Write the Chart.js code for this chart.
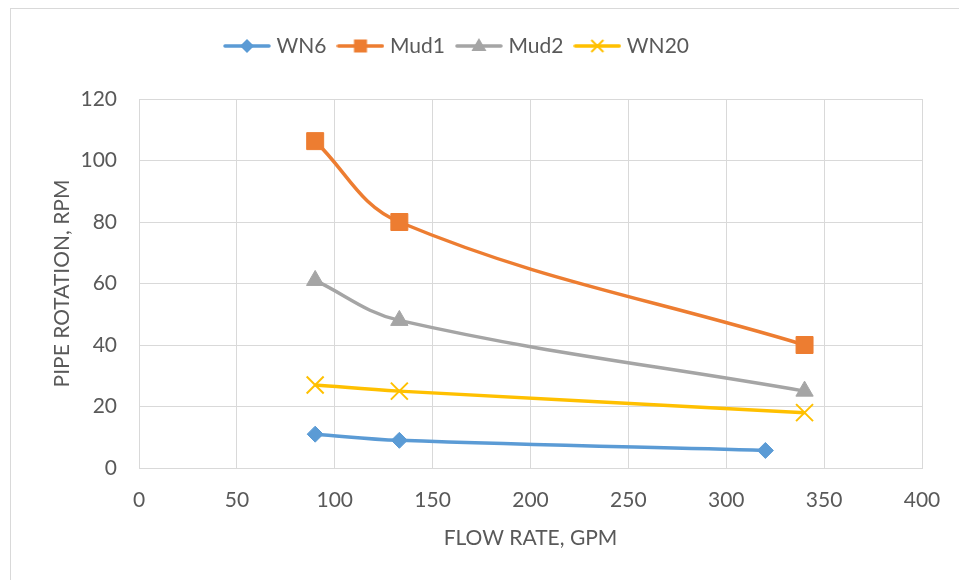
<!DOCTYPE html>
<html>
<head>
<meta charset="utf-8">
<script src="https://cdn.jsdelivr.net/npm/chart.js@4/dist/chart.umd.min.js"></script>
<style>
  html, body { margin: 0; padding: 0; background: #ffffff; overflow: hidden; }
  #wrap { position: relative; width: 959px; height: 580px; }
  #frame { position: absolute; left: 10px; top: 8px; width: 1000px; height: 700px; border: 1px solid #d9d9d9; box-sizing: border-box; }
  canvas { position: absolute; left: 0; top: 0; }
</style>
</head>
<body>
<div id="wrap">
  <div id="frame"></div>
  <canvas id="c" width="959" height="580"></canvas>
</div>
<script>
// ---- data ----
const seriesNames = ['WN6', 'Mud1', 'Mud2', 'WN20'];
const wn6X  = [90, 133, 320];
const wn6Y  = [11, 9, 5.7];
const mud1X = [90, 133, 340];
const mud1Y = [106.3, 80, 40];
const mud2X = [90, 133, 340];
const mud2Y = [61, 48, 25];
const wn20X = [90, 133, 340];
const wn20Y = [27, 25, 18];
const xTicks = [0, 50, 100, 150, 200, 250, 300, 350, 400];
const yTicks = [0, 20, 40, 60, 80, 100, 120];
const xTitle = 'FLOW RATE, GPM';
const yTitle = 'PIPE ROTATION, RPM';

// ---- styles ----
const colors = ['#5B9BD5', '#ED7D31', '#A5A5A5', '#FFC000'];
const shapes = ['rectRot', 'rect', 'triangle', 'crossRot'];
const radii  = [8, 12, 10, 12];
const FONT = 'Lato, "Open Sans", sans-serif';
const TXT = '#595959';
const GRID = '#d9d9d9';

function pts(xs, ys) { return xs.map((x, i) => ({ x: x, y: ys[i] })); }

function legendIcon(color, shape) {
  const c = document.createElement('canvas');
  c.width = 48; c.height = 20;
  const g = c.getContext('2d');
  g.strokeStyle = color; g.fillStyle = color;
  g.lineWidth = 3.5; g.lineCap = 'round';
  g.beginPath(); g.moveTo(2, 10); g.lineTo(46, 10); g.stroke();
  const cx = 24, cy = 10;
  g.beginPath();
  if (shape === 'rectRot') {
    g.moveTo(cx - 7, cy); g.lineTo(cx, cy - 7); g.lineTo(cx + 7, cy); g.lineTo(cx, cy + 7); g.closePath(); g.fill();
  } else if (shape === 'rect') {
    g.rect(cx - 6.5, cy - 6.5, 13, 13); g.fill();
  } else if (shape === 'triangle') {
    g.moveTo(cx, cy - 8); g.lineTo(cx + 7.5, cy + 5); g.lineTo(cx - 7.5, cy + 5); g.closePath(); g.fill();
  } else {
    g.lineWidth = 2; g.lineCap = 'butt';
    g.moveTo(cx - 6, cy - 6); g.lineTo(cx + 6, cy + 6);
    g.moveTo(cx + 6, cy - 6); g.lineTo(cx - 6, cy + 6); g.stroke();
  }
  return c;
}
const icons = colors.map((c, i) => legendIcon(c, shapes[i]));

const allX = [wn6X, mud1X, mud2X, wn20X];
const allY = [wn6Y, mud1Y, mud2Y, wn20Y];
const datasets = seriesNames.map((name, i) => ({
  label: name,
  data: pts(allX[i], allY[i]),
  showLine: true,
  borderColor: colors[i],
  backgroundColor: colors[i],
  borderWidth: 3.5,
  tension: 0.38,
  pointStyle: shapes[i],
  pointRadius: radii[i],
  pointHoverRadius: radii[i],
  pointBackgroundColor: colors[i],
  pointBorderColor: colors[i],
  pointBorderWidth: shapes[i] === 'crossRot' ? 2 : 1
}));

const LEG_PAD = 15;
const legendPlace = {
  id: 'legendPlace',
  afterLayout(chart) {
    const l = chart.legend;
    if (!l) return;
    l.left = 228 - LEG_PAD; l.right = 959;
    l.top = 46 - LEG_PAD - 10.5;
  }
};

new Chart(document.getElementById('c'), {
  type: 'scatter',
  data: { datasets: datasets },
  plugins: [legendPlace],
  options: {
    responsive: false,
    animation: false,
    devicePixelRatio: 1,
    layout: { padding: { top: 53, right: 37, bottom: 0, left: 0 } },
    plugins: {
      tooltip: { enabled: false },
      legend: {
        position: 'top',
        align: 'start',
        labels: {
          usePointStyle: true,
          pointStyleWidth: 38,
          padding: LEG_PAD,
          color: TXT,
          font: { family: FONT, size: 21 },
          generateLabels(chart) {
            return chart.data.datasets.map((d, i) => ({
              text: d.label,
              fillStyle: colors[i],
              strokeStyle: colors[i],
              lineWidth: 0,
              pointStyle: icons[i],
              hidden: false,
              datasetIndex: i,
              fontColor: TXT
            }));
          }
        }
      }
    },
    scales: {
      x: {
        type: 'linear',
        min: 0, max: 400,
        afterBuildTicks(s) { s.ticks = xTicks.map(v => ({ value: v })); },
        afterFit(s) { s.height = 112; s.paddingLeft = 0; s.paddingRight = 0; },
        ticks: { color: TXT, font: { family: FONT, size: 21 }, padding: 20 },
        grid: { color: GRID, lineWidth: 1, drawTicks: false },
        border: { color: GRID, width: 1 },
        title: { display: true, text: xTitle, color: TXT, font: { family: FONT, size: 21 }, padding: { top: 0, bottom: 29 } }
      },
      y: {
        type: 'linear',
        min: 0, max: 120,
        afterBuildTicks(s) { s.ticks = yTicks.map(v => ({ value: v })); },
        afterFit(s) { s.width = 139; },
        ticks: { color: TXT, font: { family: FONT, size: 21 }, padding: 22 },
        grid: { color: GRID, lineWidth: 1, drawTicks: false },
        border: { color: GRID, width: 1 },
        title: { display: true, text: yTitle, color: TXT, font: { family: FONT, size: 21 }, padding: { top: 50, bottom: 0 } }
      }
    }
  }
});
</script>
</body>
</html>
